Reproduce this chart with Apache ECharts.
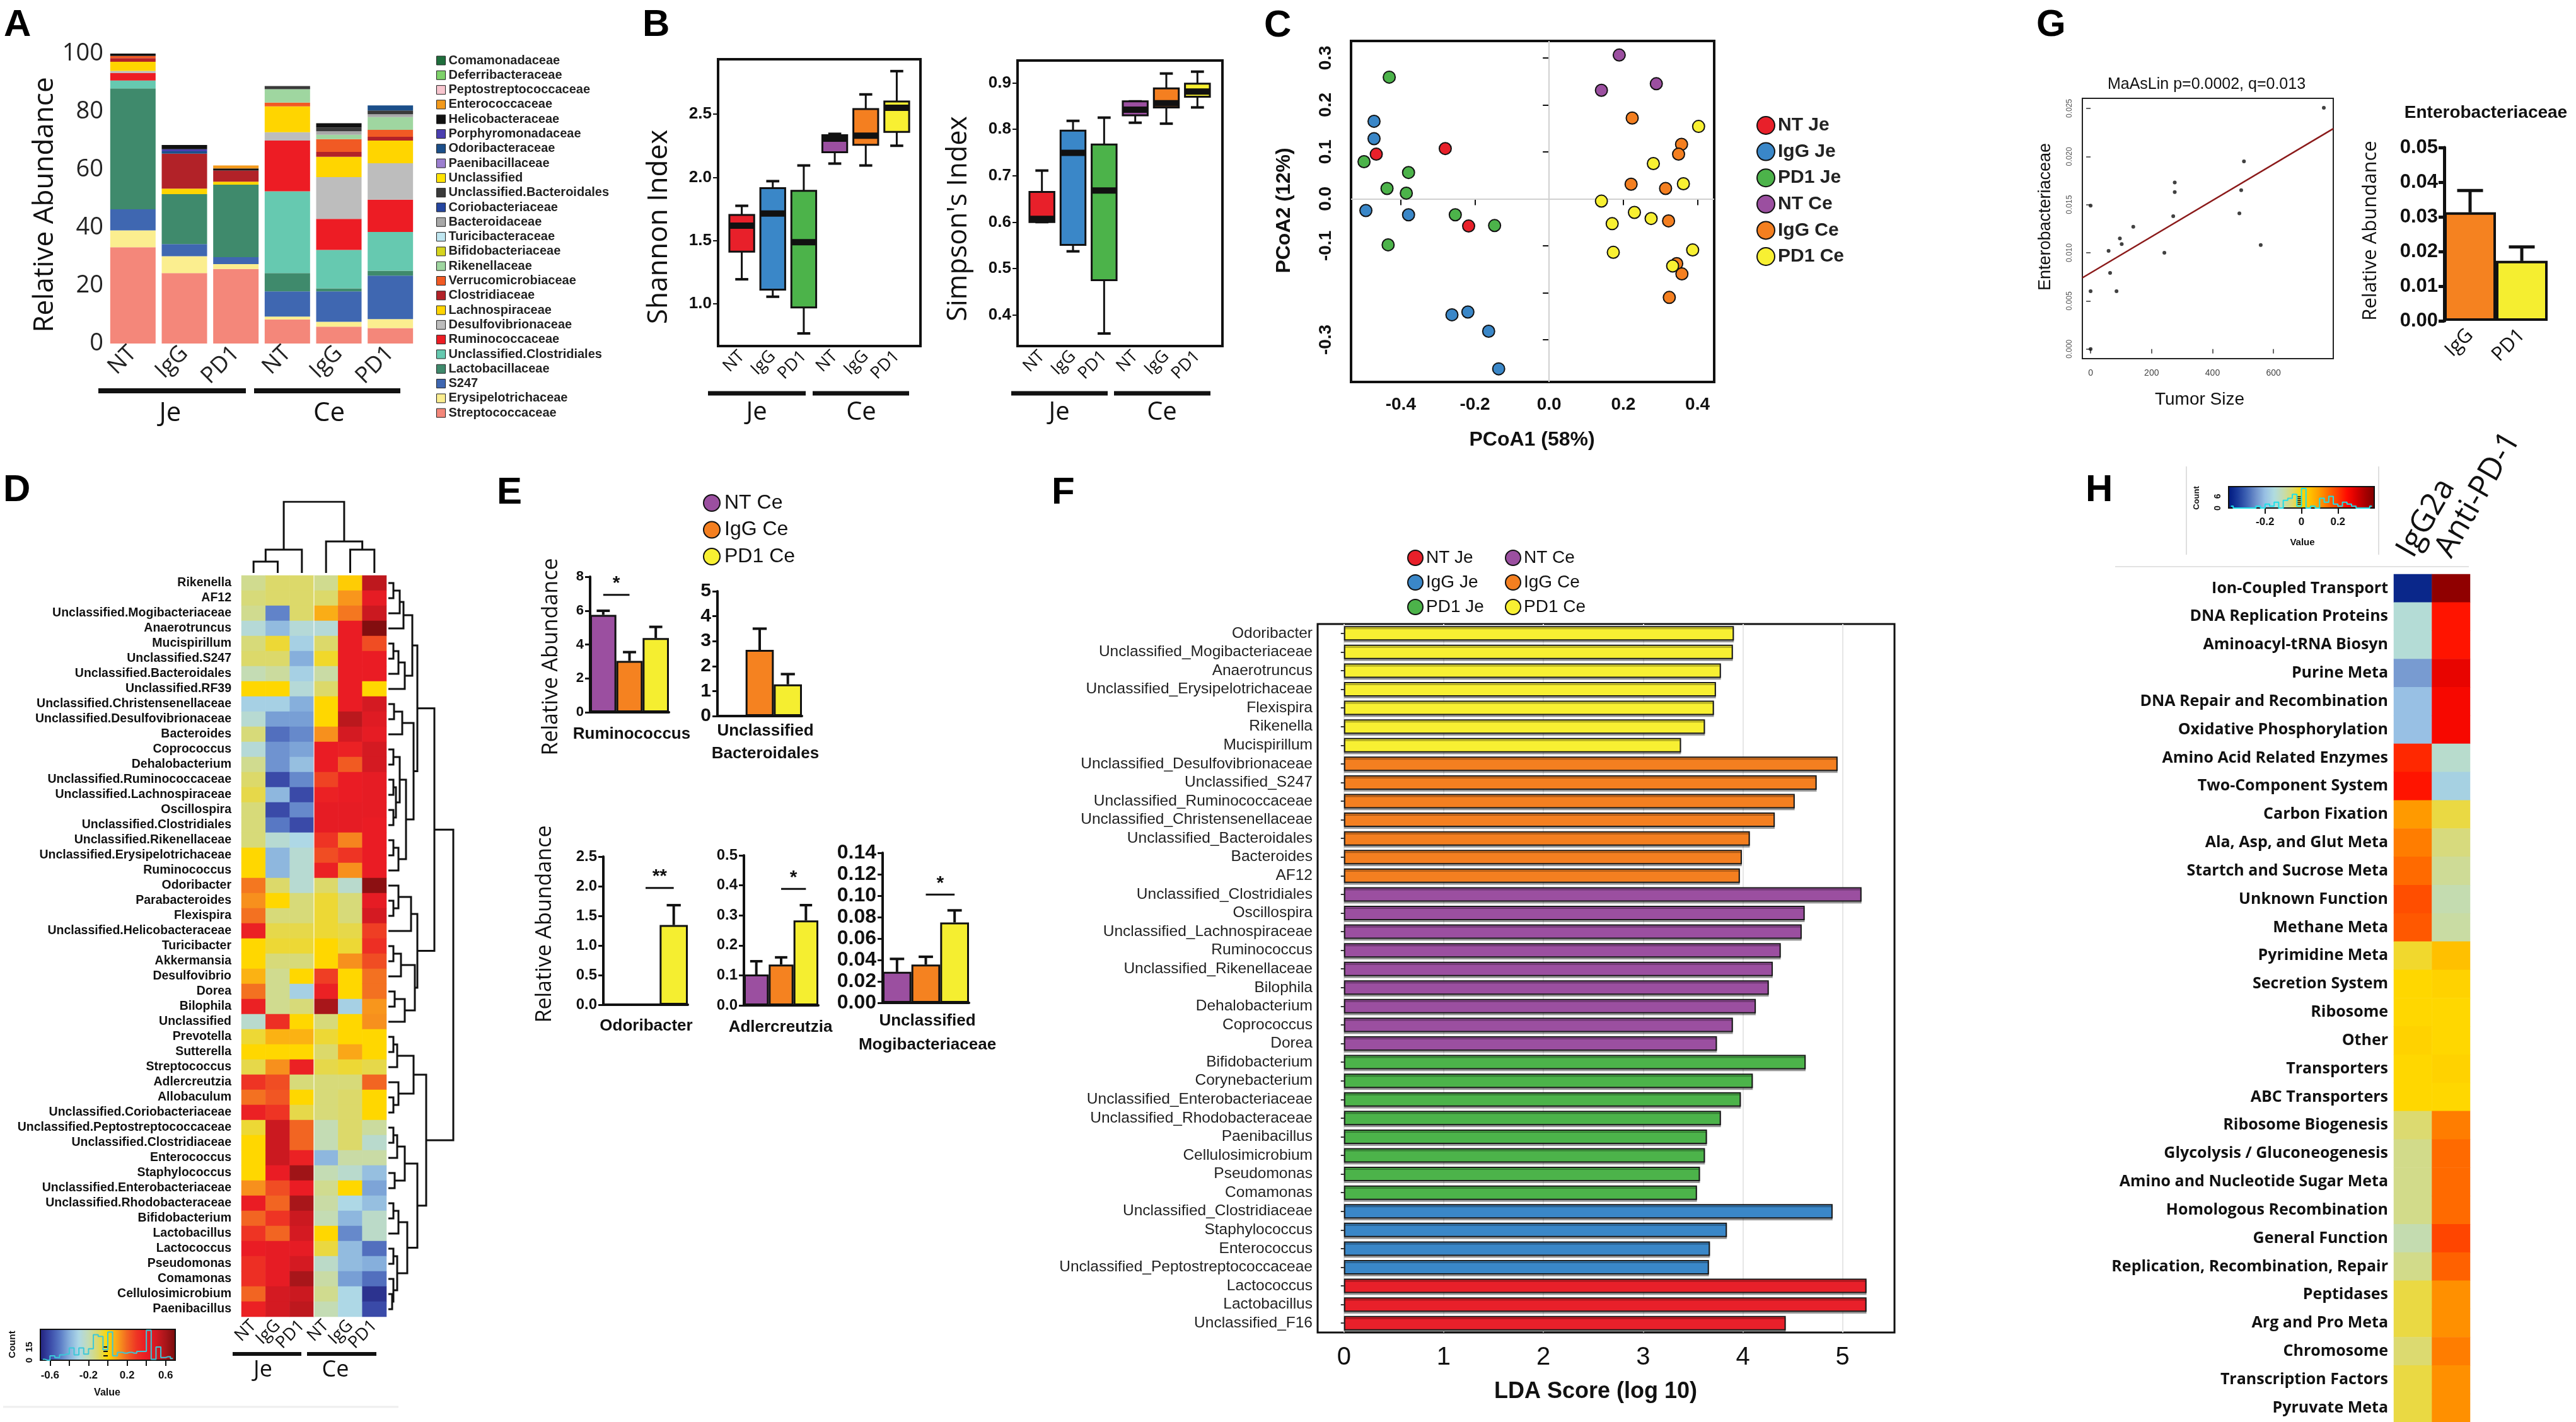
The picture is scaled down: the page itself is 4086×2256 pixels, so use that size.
<!DOCTYPE html>
<html>
<head>
<meta charset="utf-8">
<title>Microbiome multi-panel figure</title>
<script src="https://cdn.jsdelivr.net/npm/echarts@6/dist/echarts.min.js"></script>
<style>
html,body{margin:0;padding:0;background:#ffffff;}
#chart{width:4086px;height:2256px;}
</style>
</head>
<body>
<div id="chart"></div>
<script>
// ======================= DATA =======================
// ---- Panel A: relative abundance (families listed bottom -> top of stack)
const sampleCats = ['NT|Je','IgG|Je','PD1|Je','NT|Ce','IgG|Ce','PD1|Ce'];
const aFamilies = ['Streptococcaceae','Erysipelotrichaceae','S247','Lactobacillaceae','Unclassified.Clostridiales','Ruminococcaceae','Desulfovibrionaceae','Lachnospiraceae','Clostridiaceae','Verrucomicrobiaceae','Rikenellaceae','Bifidobacteriaceae','Turicibacteraceae','Bacteroidaceae','Coriobacteriaceae','Unclassified.Bacteroidales','Unclassified','Paenibacillaceae','Odoribacteraceae','Porphyromonadaceae','Helicobacteraceae','Enterococcaceae','Peptostreptococcaceae','Deferribacteraceae','Comamonadaceae'];
const aNTJe  = [33.2,5.8,7.3,41.7,2.7,2.6,0.7,3.2,1.2,0.8,0,0,0,0,0,0,0,0,0,0,0.8,0,0,0,0];
const aIgGJe = [24.3,5.8,4.2,17.2,0,0,0,1.9,12.1,0,0,0,0,0,0,0,0,0,0.8,0.7,1.5,0,0,0,0];
const aPD1Je = [25.7,1.7,2.4,25.0,0,0,0,1.0,3.9,0,0,0,0,0,0,0,0,0,0,0,0.7,1.0,0,0,0];
const aNTCe  = [8.3,1.0,8.7,6.3,28.2,17.5,2.9,8.9,0,1.3,4.6,0,0,0,0,1.1,0,0,0,0,0,0,0,0,0];
const aIgGCe = [5.8,1.7,10.5,1.0,13.3,10.7,14.4,7.0,1.7,4.4,1.5,0,0,1.2,0,1.3,0,0,0,0,1.5,0,0,0,0];
const aPD1Ce = [5.3,3.1,15.0,1.7,13.4,11.1,12.6,7.8,1.3,2.4,4.4,0,0,1.0,0,1.3,0,0,1.7,0,0,0,0,0,0];

// ---- Panel B: box statistics [min, Q1, median, Q3, max]
const bShannon = [[1.194,1.413,1.618,1.703,1.775],[1.056,1.112,1.714,1.915,1.970],[0.766,0.971,1.487,1.893,2.094],[2.109,2.199,2.306,2.333,2.344],[2.094,2.257,2.330,2.540,2.656],[2.250,2.360,2.550,2.600,2.840]];
const bSimpson = [[0.600,0.600,0.607,0.665,0.711],[0.537,0.551,0.749,0.797,0.818],[0.360,0.475,0.668,0.767,0.825],[0.814,0.830,0.842,0.860,0.860],[0.812,0.847,0.856,0.888,0.920],[0.847,0.870,0.881,0.898,0.924]];

// ---- Panel C: PCoA coordinates [PCoA1, PCoA2]
const groupNames = ['NT Je','IgG Je','PD1 Je','NT Ce','IgG Ce','PD1 Ce'];
const cNTJe  = [[-0.466,0.095],[-0.280,0.107],[-0.217,-0.058]];
const cIgGJe = [[-0.472,0.165],[-0.472,0.128],[-0.494,-0.025],[-0.379,-0.034],[-0.262,-0.247],[-0.219,-0.241],[-0.163,-0.282],[-0.136,-0.362]];
const cPD1Je = [[-0.431,0.259],[-0.499,0.079],[-0.379,0.056],[-0.437,0.022],[-0.385,0.012],[-0.253,-0.034],[-0.147,-0.057],[-0.434,-0.098]];
const cNTCe  = [[0.189,0.306],[0.141,0.231],[0.289,0.245]];
const cIgGCe = [[0.224,0.172],[0.357,0.116],[0.349,0.095],[0.221,0.031],[0.314,0.022],[0.322,-0.047],[0.344,-0.138],[0.358,-0.160],[0.324,-0.210]];
const cPD1Ce = [[0.403,0.154],[0.281,0.075],[0.362,0.032],[0.141,-0.005],[0.230,-0.029],[0.275,-0.042],[0.170,-0.053],[0.387,-0.109],[0.173,-0.114],[0.333,-0.143]];

// ---- Panel D: heatmap (rows top -> bottom), one array per column
const dRows = ['Rikenella','AF12','Unclassified.Mogibacteriaceae','Anaerotruncus','Mucispirillum','Unclassified.S247','Unclassified.Bacteroidales','Unclassified.RF39','Unclassified.Christensenellaceae','Unclassified.Desulfovibrionaceae','Bacteroides','Coprococcus','Dehalobacterium','Unclassified.Ruminococcaceae','Unclassified.Lachnospiraceae','Oscillospira','Unclassified.Clostridiales','Unclassified.Rikenellaceae','Unclassified.Erysipelotrichaceae','Ruminococcus','Odoribacter','Parabacteroides','Flexispira','Unclassified.Helicobacteraceae','Turicibacter','Akkermansia','Desulfovibrio','Dorea','Bilophila','Unclassified','Prevotella','Sutterella','Streptococcus','Adlercreutzia','Allobaculum','Unclassified.Coriobacteriaceae','Unclassified.Peptostreptococcaceae','Unclassified.Clostridiaceae','Enterococcus','Staphylococcus','Unclassified.Enterobacteriaceae','Unclassified.Rhodobacteraceae','Bifidobacterium','Lactobacillus','Lactococcus','Pseudomonas','Comamonas','Cellulosimicrobium','Paenibacillus'];
const dNTJe  = [-0.15,-0.12,-0.15,-0.27,-0.12,-0.10,-0.20,0.00,-0.32,-0.26,-0.12,-0.27,-0.15,-0.10,-0.07,-0.12,-0.12,-0.12,0.00,0.00,0.17,0.13,0.18,0.38,0.00,0.00,0.07,0.18,0.38,-0.25,-0.05,0.00,-0.07,0.30,0.18,0.38,-0.05,0.00,0.00,0.00,0.13,0.40,0.20,0.30,0.40,0.32,0.32,0.20,0.38];
const dIgGJe = [-0.10,-0.10,-0.48,-0.37,-0.05,-0.10,-0.17,0.00,-0.32,-0.43,-0.52,-0.45,-0.45,-0.60,-0.38,-0.60,-0.50,-0.26,-0.38,-0.38,-0.10,0.00,-0.12,-0.07,-0.05,-0.12,-0.15,-0.15,-0.15,0.32,0.07,0.00,0.13,0.25,0.23,0.30,0.52,0.52,0.52,0.40,0.25,0.20,0.30,0.20,0.42,0.42,0.42,0.50,0.50];
const dPD1Je = [-0.10,-0.10,-0.10,-0.27,-0.32,-0.40,-0.32,-0.27,-0.40,-0.43,-0.47,-0.42,-0.36,-0.47,-0.60,-0.47,-0.60,-0.30,-0.26,-0.26,-0.26,-0.12,-0.12,-0.07,-0.05,-0.12,0.00,-0.32,-0.12,0.00,0.07,0.00,0.38,-0.12,0.00,-0.07,0.20,0.20,0.38,0.62,0.40,0.60,0.52,0.50,0.42,0.50,0.60,0.52,0.55];
const dNTCe  = [-0.15,-0.10,0.08,-0.27,-0.10,-0.04,-0.18,-0.10,0.00,0.00,0.13,0.40,0.40,0.27,0.38,0.42,0.42,0.30,0.25,0.38,-0.10,-0.05,-0.05,-0.05,0.00,0.00,0.28,0.38,0.60,-0.12,-0.05,-0.10,-0.07,-0.12,-0.12,-0.12,-0.20,-0.20,-0.38,-0.20,-0.15,-0.18,-0.20,0.00,-0.06,-0.24,-0.18,-0.15,-0.20];
const dIgGCe = [0.02,0.12,0.17,0.40,0.40,0.40,0.40,0.40,0.40,0.56,0.50,0.38,0.22,0.40,0.40,0.42,0.42,0.15,0.30,0.13,-0.25,-0.12,-0.12,-0.07,-0.05,0.13,0.00,0.00,-0.32,0.00,0.00,0.09,-0.05,-0.12,-0.10,-0.10,-0.10,-0.10,-0.18,-0.25,0.00,-0.30,-0.38,-0.47,-0.37,-0.37,-0.43,-0.30,-0.30];
const dPD1Ce = [0.55,0.42,0.52,0.68,0.25,0.40,0.40,0.00,0.50,0.45,0.42,0.50,0.50,0.42,0.42,0.42,0.40,0.40,0.40,0.40,0.66,0.42,0.50,0.28,0.32,0.25,0.18,0.18,0.12,0.13,0.00,0.00,-0.07,0.20,0.00,0.00,-0.17,-0.25,-0.18,-0.36,-0.42,-0.36,-0.24,-0.24,-0.52,-0.40,-0.52,-0.66,-0.60];
// dendrograms: [mergeHeight, left, right]; leaves = row number (1-based) / column index (0-based)
const dRowTree = [103,
  [73,
    [46, [38, [24,[18,[8,1,2],3],4], [26,[16,[8,5,6],7],8]],
         [40, [22,[9,9,10],11], [28, [18,[8,12,13],[12,[8,14,15],[8,16,17]]], [16,[8,18,19],20]]]],
    [46, [36,[16,21,[8,22,23]],24], [42,[20,[8,25,26],27],[26,[10,28,29],30]]]],
  [60,
    [40, [14,[8,31,32],33], [16,34,[8,35,36]]],
    [46, [26,[14,[8,37,38],39],[10,40,41]], [30,[16,[8,42,43],44],[14,[8,45,46],[8,47,[6,48,49]]]]]]];
const dColTree = [113, [37,[18,0,1],2], [50,3,[37,4,5]]];

// ---- Panel E: mean and upper error-bar end
const eGroups = ['NT Ce','IgG Ce','PD1 Ce'];
const eRumMean = [5.75,3.03,4.38],      eRumErr = [5.99,3.55,5.04];
const eBacMean = [0.02,2.65,1.27],      eBacErr = [null,3.50,1.68];
const eOdoMean = [0,0,1.345],           eOdoErr = [null,null,1.68];
const eAdlMean = [0.103,0.136,0.283],   eAdlErr = [0.147,0.160,0.334];
const eMogMean = [0.0289,0.0357,0.075], eMogErr = [0.041,0.043,0.0863];
// significance brackets [fromGroup, toGroup, height]
const eRumSig = [0,1,6.93], eOdoSig = [1,2,1.97], eAdlSig = [1,2,0.388], eMogSig = [1,2,0.101];

// ---- Panel F: LDA scores
const fGenera = ['Odoribacter','Unclassified_Mogibacteriaceae','Anaerotruncus','Unclassified_Erysipelotrichaceae','Flexispira','Rikenella','Mucispirillum','Unclassified_Desulfovibrionaceae','Unclassified_S247','Unclassified_Ruminococcaceae','Unclassified_Christensenellaceae','Unclassified_Bacteroidales','Bacteroides','AF12','Unclassified_Clostridiales','Oscillospira','Unclassified_Lachnospiraceae','Ruminococcus','Unclassified_Rikenellaceae','Bilophila','Dehalobacterium','Coprococcus','Dorea','Bifidobacterium','Corynebacterium','Unclassified_Enterobacteriaceae','Unclassified_Rhodobacteraceae','Paenibacillus','Cellulosimicrobium','Pseudomonas','Comamonas','Unclassified_Clostridiaceae','Staphylococcus','Enterococcus','Unclassified_Peptostreptococcaceae','Lactococcus','Lactobacillus','Unclassified_F16'];
const fScores = [3.91,3.90,3.78,3.73,3.71,3.62,3.38, 4.95,4.74,4.52,4.32,4.07,3.99,3.97, 5.19,4.62,4.59,4.38,4.30,4.26,4.13,3.90,3.74, 4.63,4.10,3.98,3.78,3.64,3.62,3.57,3.54, 4.90,3.84,3.67,3.66, 5.24,5.24,4.43];
const fGroups = ['PD1 Ce','PD1 Ce','PD1 Ce','PD1 Ce','PD1 Ce','PD1 Ce','PD1 Ce','IgG Ce','IgG Ce','IgG Ce','IgG Ce','IgG Ce','IgG Ce','IgG Ce','NT Ce','NT Ce','NT Ce','NT Ce','NT Ce','NT Ce','NT Ce','NT Ce','NT Ce','PD1 Je','PD1 Je','PD1 Je','PD1 Je','PD1 Je','PD1 Je','PD1 Je','PD1 Je','IgG Je','IgG Je','IgG Je','IgG Je','NT Je','NT Je','NT Je'];

// ---- Panel G
const gTumor  = [765,503,276,276,494,0,271,488,140,96,102,59,242,558,64,0,85,0];
const gEntero = [0.02506,0.0195,0.0173,0.0163,0.0165,0.0149,0.0138,0.0141,0.0127,0.0115,0.0109,0.0102,0.0100,0.0108,0.0079,0.0060,0.0060,0.0000];
const gRegLine = [[-27,0.0074],[796,0.0229]];
const gBarCats = ['IgG','PD1'];
const gBarMean = [0.0313,0.0173];
const gBarErr  = [0.0376,0.0213];

// ---- Panel H: pathway heatmap
const hCols = ['IgG2a','Anti-PD-1'];
const hPathways = ['Ion-Coupled Transport','DNA Replication Proteins','Aminoacyl-tRNA Biosyn','Purine Meta','DNA Repair and Recombination','Oxidative Phosphorylation','Amino Acid Related Enzymes','Two-Component System','Carbon Fixation','Ala, Asp, and Glut Meta','Startch and Sucrose Meta','Unknown Function','Methane Meta','Pyrimidine Meta','Secretion System','Ribosome','Other','Transporters','ABC Transporters','Ribosome Biogenesis','Glycolysis / Gluconeogenesis','Amino and Nucleotide Sugar Meta','Homologous Recombination','General Function','Replication, Recombination, Repair','Peptidases','Arg and Pro Meta','Chromosome','Transcription Factors','Pyruvate Meta'];
const hIgG2a   = [-0.38,-0.14,-0.14,-0.24,-0.20,-0.20,0.22,0.24,0.10,0.13,0.15,0.18,0.17,-0.02,0.00,0.00,0.01,0.00,0.00,-0.05,-0.07,-0.07,-0.07,-0.10,-0.07,-0.03,-0.03,-0.05,-0.03,-0.03];
const hAntiPD1 = [0.38,0.24,0.24,0.28,0.26,0.26,-0.13,-0.17,-0.03,-0.06,-0.08,-0.10,-0.09,0.05,0.01,0.00,0.00,0.01,0.00,0.13,0.15,0.15,0.15,0.19,0.16,0.11,0.11,0.13,0.11,0.11];

// ======================= STYLES =======================
const F_ARIAL = "'Liberation Sans', Arial, Helvetica, sans-serif";
const F_OPEN = "'Open Sans', 'Liberation Sans', sans-serif";
const INK = '#111111';
const aColors = ['#f4877a','#fbee8f','#3f67b1','#3f8a6c','#66c9b0','#ed1c24','#bdbdbd','#ffd500','#b22228','#f15a24','#9fd6a0','#d6d41e','#bfe6f0','#a8a8a8','#2546a0','#3a3a3a','#ffe400','#9c7fd0','#1b4f8a','#4b3fb0','#111111','#f39a1c','#f8c6cf','#7ed26a','#1f6e3c'];
const groupColors = ['#e8202a','#3a87c8','#4cb34a','#9b4fa0','#f47f20','#f8f032'];
const eColors = ['#9b4fa0','#f58220','#f5ee30'];
const dScale = ['#23237f','#3a4aa8','#5878c4','#86afdc','#aed8e6','#c4dcb4','#dcd96a','#ffd700','#f9a21b','#f26522','#ee3424','#ea1c24','#d41a22','#a8161a','#7a0c0c'];
const hScale = ['#001a80','#1a3a9a','#4064b4','#7092cc','#98c0e4','#b0dce0','#c4dcb0','#dcda70','#ffd700','#ffc000','#ff9a00','#ff6a00','#ff3c00','#ff0a00','#d80000','#a80000','#800000'];

// ======================= BUILDERS =======================
const grids=[], xAxes=[], yAxes=[], series=[], graphics=[], legends=[], visualMaps=[];
function addGrid(g){ grids.push(Object.assign({containLabel:false, outerBoundsMode:'none'}, g)); return grids.length-1; }
function addX(a){ xAxes.push(a); return xAxes.length-1; }
function addY(a){ yAxes.push(a); return yAxes.length-1; }
function txt(x, y, text, size, o){
  o = o || {};
  const al = o.align || 'center';
  graphics.push({type:'text', x:x, y:y, rotation:o.rot||0, silent:true, z:100,
    style:{text:text, fill:o.color||INK, fontSize:size, fontFamily:o.family||F_ARIAL, fontWeight:o.weight||'normal',
      align:al, verticalAlign:'middle', textAlign:al, textVerticalAlign:'middle'}});
}
function seg(x1,y1,x2,y2,w,color){
  graphics.push({type:'line', silent:true, z:100, shape:{x1:x1,y1:y1,x2:x2,y2:y2}, style:{stroke:color||INK, lineWidth:w}});
}
const catFmt = v => String(v).split('|')[0];
function fmtIn(list, digits){ return v => list.some(t => Math.abs(t - v) < 1e-9) ? (digits == null ? String(+v.toFixed(4)) : v.toFixed(digits)) : ''; }
const ROT = Math.PI/2;

function makeBoxRender(colors){
  return function(params, api){
    const i = api.value(0);
    const p = [1,2,3,4,5].map(k => api.coord([i, api.value(k)]));
    const band = api.size([1,0])[0];
    const bw = band*0.8, sw = band*0.42, x = p[0][0];
    const st = {stroke:INK, lineWidth:3};
    return {type:'group', children:[
      {type:'line', shape:{x1:x,y1:p[0][1],x2:x,y2:p[1][1]}, style:st},
      {type:'line', shape:{x1:x,y1:p[3][1],x2:x,y2:p[4][1]}, style:st},
      {type:'line', shape:{x1:x-sw/2,y1:p[0][1],x2:x+sw/2,y2:p[0][1]}, style:{stroke:INK,lineWidth:4}},
      {type:'line', shape:{x1:x-sw/2,y1:p[4][1],x2:x+sw/2,y2:p[4][1]}, style:{stroke:INK,lineWidth:4}},
      {type:'rect', shape:{x:x-bw/2,y:p[3][1],width:bw,height:p[1][1]-p[3][1]}, style:{fill:colors[i],stroke:INK,lineWidth:3}},
      {type:'rect', shape:{x:x-bw/2,y:p[2][1]-5,width:bw,height:10}, style:{fill:INK}}
    ]};
  };
}
function makeErrRender(lw){
  return function(params, api){
    const i = api.value(0);
    const a = api.coord([i, api.value(1)]);
    const b = api.coord([i, api.value(2)]);
    const cw = api.size([1,0])[0]*0.5;
    return {type:'group', children:[
      {type:'line', shape:{x1:a[0],y1:a[1],x2:b[0],y2:b[1]}, style:{stroke:INK,lineWidth:lw}},
      {type:'line', shape:{x1:b[0]-cw/2,y1:b[1],x2:b[0]+cw/2,y2:b[1]}, style:{stroke:INK,lineWidth:lw}}
    ]};
  };
}
function makeSigRender(label, size){
  return function(params, api){
    const a = api.coord([api.value(0), api.value(2)]);
    const b = api.coord([api.value(1), api.value(2)]);
    return {type:'group', children:[
      {type:'line', shape:{x1:a[0],y1:a[1],x2:b[0],y2:b[1]}, style:{stroke:INK,lineWidth:3}},
      {type:'text', x:(a[0]+b[0])/2, y:a[1]-3, style:{text:label, fontSize:size, fontWeight:'bold', fill:INK, align:'center', verticalAlign:'bottom', textAlign:'center', textVerticalAlign:'bottom'}}
    ]};
  };
}
function dendro(tree, leafPos){
  const segs = [];
  (function walk(n){
    if (typeof n === 'number') return [leafPos(n), 0];
    const L = walk(n[1]), R = walk(n[2]);
    segs.push([[L[1],L[0]],[n[0],L[0]],[n[0],R[0]],[R[1],R[0]]]);
    return [(L[0]+R[0])/2, n[0]];
  })(tree);
  return segs;
}
function histo(vals, lo, hi, w){
  const n = Math.round((hi-lo)/w), c = new Array(n).fill(0);
  vals.forEach(v => { let k = Math.floor((v-lo)/w + 1e-9); if (k<0) k=0; if (k>=n) k=n-1; c[k]++; });
  return c.map((cnt,k) => [lo+(k+0.5)*w, cnt]);
}

// ======================= PANEL A =======================
(function(){
  const g = addGrid({left:170, top:85, width:490, height:460});
  const xi = addX({type:'category', gridIndex:g, data:sampleCats, axisLine:{show:false}, axisTick:{show:false},
    axisLabel:{rotate:45, interval:0, fontSize:36, fontFamily:F_OPEN, color:'#222', margin:10, formatter:catFmt}});
  const yi = addY({type:'value', gridIndex:g, min:0, max:100, interval:20, axisLine:{show:false}, axisTick:{show:false}, splitLine:{show:false},
    axisLabel:{fontSize:38, fontFamily:F_OPEN, color:'#222', margin:6}});
  const samples = [aNTJe, aIgGJe, aPD1Je, aNTCe, aIgGCe, aPD1Ce];
  aFamilies.forEach((f, fi) => series.push({type:'bar', name:f, stack:'A', xAxisIndex:xi, yAxisIndex:yi, barWidth:72,
    data:samples.map(s => s[fi]), itemStyle:{color:aColors[fi]}, emphasis:{disabled:true}}));
  legends.push({orient:'vertical', left:692, top:86, padding:0, itemWidth:14, itemHeight:14, itemGap:3.3, icon:'rect', selectedMode:false,
    data:aFamilies.slice().reverse(), itemStyle:{borderColor:'#222', borderWidth:1},
    textStyle:{fontSize:20, fontWeight:'bold', fontFamily:F_ARIAL, color:'#222', lineHeight:20}});
  txt(71, 325, 'Relative Abundance', 44, {family:F_OPEN, rot:ROT});
  seg(156,620,390,620,8); seg(403,620,635,620,8);
  txt(270, 656, 'Je', 42, {family:F_OPEN}); txt(522, 656, 'Ce', 42, {family:F_OPEN});
})();

// ======================= PANEL B =======================
function boxPanel(frame, dataLeft, dataWidth, ymin, ymax, ticks, stats){
  const gf = addGrid({left:frame.left, top:frame.top, width:frame.width, height:frame.height, show:true, borderColor:INK, borderWidth:4, backgroundColor:'transparent'});
  addX({type:'value', gridIndex:gf, show:false, min:0, max:1});
  addY({type:'value', gridIndex:gf, min:ymin, max:ymax, axisLine:{show:false}, splitLine:{show:false},
    axisTick:{show:true, customValues:ticks, length:8, lineStyle:{width:2, color:INK}},
    axisLabel:{customValues:ticks, fontSize:26, fontWeight:'bold', color:INK, margin:10, formatter:fmtIn(ticks,1)}});
  const gd = addGrid({left:dataLeft, top:frame.top, width:dataWidth, height:frame.height});
  const xi = addX({type:'category', gridIndex:gd, data:sampleCats, axisLine:{show:false}, axisTick:{show:false},
    axisLabel:{rotate:45, interval:0, fontSize:27, fontFamily:F_OPEN, color:INK, margin:12, formatter:catFmt}});
  const yi = addY({type:'value', gridIndex:gd, min:ymin, max:ymax, show:false});
  series.push({type:'custom', name:'box', xAxisIndex:xi, yAxisIndex:yi, renderItem:makeBoxRender(groupColors),
    encode:{x:0, y:[1,2,3,4,5]}, data:stats.map((d,i) => [i].concat(d)), z:3});
}
boxPanel({left:1139, top:94, width:321, height:455}, 1152, 295, 0.666, 2.934, [1.0,1.5,2.0,2.5], bShannon);
boxPanel({left:1614, top:96, width:325, height:453}, 1628, 296, 0.333, 0.948, [0.4,0.5,0.6,0.7,0.8,0.9], bSimpson);
txt(1045, 360, 'Shannon Index', 44, {family:F_OPEN, rot:ROT});
txt(1521, 347, "Simpson's Index", 43, {family:F_OPEN, rot:ROT});
seg(1123,624,1278,624,7); seg(1289,624,1442,624,7);
seg(1604,624,1757,624,7); seg(1767,624,1920,624,7);
txt(1200,655,'Je',40,{family:F_OPEN}); txt(1366,655,'Ce',40,{family:F_OPEN});
txt(1680,655,'Je',40,{family:F_OPEN}); txt(1843,655,'Ce',40,{family:F_OPEN});

// ======================= PANEL C =======================
(function(){
  const g = addGrid({left:2143, top:65, width:576, height:541, show:true, borderColor:INK, borderWidth:4});
  const xt = [-0.4,-0.2,0,0.2,0.4];
  const yt = [-0.3,-0.2,-0.1,0,0.1,0.2,0.3];
  const yl = [-0.3,-0.1,0,0.1,0.2,0.3];
  const xi = addX({type:'value', gridIndex:g, min:-0.534, max:0.445, splitLine:{show:false}, axisLine:{show:false},
    axisTick:{customValues:xt, length:10, lineStyle:{width:2, color:INK}},
    axisLabel:{customValues:xt, formatter:fmtIn(xt,1), fontSize:28, fontWeight:'bold', color:INK, margin:22}});
  const yi = addY({type:'value', gridIndex:g, min:-0.39, max:0.336, splitLine:{show:false}, axisLine:{show:false},
    axisTick:{customValues:yt, length:10, lineStyle:{width:2, color:INK}},
    axisLabel:{customValues:yl, formatter:fmtIn(yl,1), rotate:90, fontSize:28, fontWeight:'bold', color:INK, margin:26}});
  const sets = [cNTJe, cIgGJe, cPD1Je, cNTCe, cIgGCe, cPD1Ce];
  sets.forEach((d, k) => {
    const s = {type:'scatter', name:groupNames[k], xAxisIndex:xi, yAxisIndex:yi, data:d, symbolSize:19,
      itemStyle:{color:groupColors[k], borderColor:INK, borderWidth:2, opacity:1}, emphasis:{disabled:true}, z:3};
    if (k === 0) s.markLine = {silent:true, symbol:'none', label:{show:false}, lineStyle:{color:'#d0d0d0', width:2, type:'solid'},
      data:[{xAxis:0},{yAxis:0}], z:1};
    series.push(s);
  });
  legends.push({orient:'vertical', left:2786, top:184, padding:0, itemWidth:28, itemHeight:28, itemGap:11.6, icon:'circle', selectedMode:false,
    data:groupNames, textStyle:{fontSize:30, fontWeight:'bold', color:'#222', lineHeight:30}});
  txt(2430, 698, 'PCoA1 (58%)', 32, {weight:'bold'});
  txt(2037, 334, 'PCoA2 (12%)', 32, {weight:'bold', rot:ROT});
})();

// ======================= PANEL D =======================
(function(){
  const g = addGrid({left:383, top:913, width:230, height:1176});
  const xi = addX({type:'category', gridIndex:g, data:sampleCats, axisLine:{show:false}, axisTick:{show:false},
    axisLabel:{rotate:45, interval:0, fontSize:27, fontFamily:F_OPEN, color:INK, margin:10, formatter:catFmt}});
  const yi = addY({type:'category', gridIndex:g, data:dRows, inverse:true, axisLine:{show:false}, axisTick:{show:false},
    axisLabel:{interval:0, fontSize:19.5, fontWeight:'bold', color:INK, margin:16}});
  const cols = [dNTJe, dIgGJe, dPD1Je, dNTCe, dIgGCe, dPD1Ce];
  const heat = [], all = [];
  cols.forEach((col, ci) => col.forEach((v, ri) => { heat.push([ci, ri, v]); all.push(v); }));
  const sIdx = series.length;
  series.push({type:'heatmap', xAxisIndex:xi, yAxisIndex:yi, data:heat, itemStyle:{borderWidth:0}, emphasis:{disabled:true}});
  visualMaps.push({type:'continuous', seriesIndex:sIdx, min:-0.7, max:0.7, orient:'horizontal', left:64, top:2109, padding:0,
    itemWidth:49, itemHeight:214, calculable:false, hoverLink:false, show:true, inRange:{color:dScale}});
  // colour key histogram
  const gk = addGrid({left:64, top:2109, width:214, height:49, show:true, borderColor:INK, borderWidth:2, z:10});
  const hist = histo(all, -0.7, 0.7, 0.05);
  const hmax = Math.max(17, Math.max.apply(null, hist.map(h => h[1])) + 1);
  const kx = addX({type:'value', gridIndex:gk, min:-0.7, max:0.7, z:10, splitLine:{show:false}, axisLine:{show:false},
    axisTick:{customValues:[-0.6,-0.4,-0.2,0,0.2,0.4,0.6], length:9, lineStyle:{width:2, color:INK}},
    axisLabel:{customValues:[-0.6,-0.2,0.2,0.6], formatter:fmtIn([-0.6,-0.2,0.2,0.6],1), fontSize:17, fontWeight:'bold', color:INK, margin:16}});
  const ky = addY({type:'value', gridIndex:gk, min:0, max:hmax, z:10, splitLine:{show:false}, axisLine:{show:false},
    axisTick:{customValues:[0,5,10,15], length:7, lineStyle:{width:2, color:INK}},
    axisLabel:{customValues:[0,15], formatter:fmtIn([0,15]), rotate:90, fontSize:15, fontWeight:'bold', color:INK, margin:10}});
  series.push({type:'line', xAxisIndex:kx, yAxisIndex:ky, data:hist, step:'middle', symbol:'none', z:12, silent:true,
    lineStyle:{color:'#3cc8d8', width:2}});
  // dendrograms
  const gr = addGrid({left:616, top:913, width:103, height:1176});
  const rx = addX({type:'value', gridIndex:gr, min:0, max:103, show:false});
  const ry = addY({type:'value', gridIndex:gr, min:0, max:49, inverse:true, show:false});
  series.push({type:'lines', coordinateSystem:'cartesian2d', xAxisIndex:rx, yAxisIndex:ry, polyline:true, silent:true,
    data:dendro(dRowTree, r => r - 0.5).map(c => ({coords:c})), lineStyle:{color:INK, width:3, opacity:1}});
  const gc = addGrid({left:383, top:796, width:230, height:113});
  const cx = addX({type:'value', gridIndex:gc, min:0, max:6, show:false});
  const cy = addY({type:'value', gridIndex:gc, min:0, max:113, show:false});
  series.push({type:'lines', coordinateSystem:'cartesian2d', xAxisIndex:cx, yAxisIndex:cy, polyline:true, silent:true,
    data:dendro(dColTree, i => i + 0.5).map(c => ({coords:c.map(p => [p[1], p[0]])})), lineStyle:{color:INK, width:3, opacity:1}});
  seg(498, 913, 498, 2089, 2, 'rgba(255,255,255,0.55)');
  seg(369,2148,478,2148,6); seg(487,2148,597,2148,6);
  txt(417,2174,'Je',36,{family:F_OPEN}); txt(532,2174,'Ce',36,{family:F_OPEN});
  txt(170,2210,'Value',16,{weight:'bold'});
  txt(20,2133,'Count',15,{weight:'bold', rot:ROT});
  seg(5,2232,632,2232,3,'#eeeeee');
})();

// ======================= PANEL E =======================
function ePanel(g, ymax, interval, labelSize, digits, means, errs, sig, sigLabel){
  const gi = addGrid(g);
  const xi = addX({type:'category', gridIndex:gi, data:eGroups, axisLine:{show:true, lineStyle:{color:INK, width:4}}, axisTick:{show:false}, axisLabel:{show:false}});
  const yi = addY({type:'value', gridIndex:gi, min:0, max:ymax, interval:interval, splitLine:{show:false},
    axisLine:{show:true, lineStyle:{color:INK, width:4}}, axisTick:{show:true, length:8, lineStyle:{width:3, color:INK}},
    axisLabel:{fontSize:labelSize, fontWeight:'bold', color:INK, margin:10, formatter:v => (+v).toFixed(digits)}});
  eGroups.forEach((c, ci) => series.push({type:'bar', name:c, stack:'e'+gi, xAxisIndex:xi, yAxisIndex:yi, barWidth:'100%',
    data:means.map((m,k) => k === ci ? m : '-'), itemStyle:{color:eColors[ci], borderColor:INK, borderWidth:3}, emphasis:{disabled:true}}));
  const ed = [];
  errs.forEach((e,k) => { if (e != null) ed.push([k, means[k], e]); });
  series.push({type:'custom', xAxisIndex:xi, yAxisIndex:yi, renderItem:makeErrRender(4), encode:{x:0, y:[1,2]}, data:ed, z:5});
  if (sig) series.push({type:'custom', xAxisIndex:xi, yAxisIndex:yi, renderItem:makeSigRender(sigLabel, 30), encode:{x:[0,1], y:2}, data:[sig], z:5});
}
ePanel({left:936, top:915, width:125, height:215}, 8, 2, 22, 0, eRumMean, eRumErr, eRumSig, '*');
ePanel({left:1138, top:938, width:134, height:198}, 5, 1, 30, 0, eBacMean, eBacErr, null, '');
ePanel({left:957, top:1359, width:134, height:235}, 2.5, 0.5, 24, 1, eOdoMean, eOdoErr, eOdoSig, '**');
ePanel({left:1180, top:1357, width:118, height:238}, 0.5, 0.1, 24, 1, eAdlMean, eAdlErr, eAdlSig, '*');
ePanel({left:1400, top:1353, width:137, height:238}, 0.14, 0.02, 32, 2, eMogMean, eMogErr, eMogSig, '*');
legends.push({orient:'vertical', left:1115, top:782, padding:0, itemWidth:30, itemHeight:26, itemGap:10.5, icon:'circle', selectedMode:false,
  data:eGroups, textStyle:{fontSize:32, color:INK, lineHeight:32}});
txt(874,1042,'Relative Abundance',34,{family:F_OPEN, rot:ROT});
txt(864,1466,'Relative Abundance',34,{family:F_OPEN, rot:ROT});
txt(1002,1165,'Ruminococcus',26,{weight:'bold'});
txt(1214,1160,'Unclassified',26,{weight:'bold'}); txt(1214,1196,'Bacteroidales',26,{weight:'bold'});
txt(1025,1628,'Odoribacter',26,{weight:'bold'});
txt(1238,1630,'Adlercreutzia',26,{weight:'bold'});
txt(1471,1620,'Unclassified',26,{weight:'bold'}); txt(1471,1658,'Mogibacteriaceae',26,{weight:'bold'});

// ======================= PANEL F =======================
(function(){
  const g = addGrid({left:2090, top:990, width:915, height:1124, show:true, borderColor:INK, borderWidth:3});
  const xt = [0,1,2,3,4,5];
  const xi = addX({type:'value', gridIndex:g, min:-0.264, max:5.52, axisLine:{show:false},
    splitLine:{show:true, lineStyle:{color:'#e6e6e6', width:2}},
    axisTick:{customValues:xt, length:10, lineStyle:{width:2, color:'#333'}},
    axisLabel:{customValues:xt, formatter:fmtIn(xt,0), fontSize:40, color:INK, margin:20}});
  const yi = addY({type:'category', gridIndex:g, data:fGenera, inverse:true, axisLine:{show:false},
    axisTick:{show:true, length:5, alignWithLabel:true, lineStyle:{color:'#333', width:2}},
    axisLabel:{interval:0, fontSize:24.5, color:'#222', margin:8}});
  groupNames.forEach((gn, k) => series.push({type:'bar', name:gn, stack:'F', xAxisIndex:xi, yAxisIndex:yi, barWidth:23,
    data:fScores.map((s,i) => fGroups[i] === gn ? s : '-'),
    itemStyle:{color:groupColors[k], borderColor:'#1a1a1a', borderWidth:2, shadowColor:'rgba(0,0,0,0.3)', shadowOffsetY:3}, emphasis:{disabled:true}}));
  legends.push({orient:'vertical', left:2232, top:870, padding:0, itemWidth:24, itemHeight:30, itemGap:9, icon:'circle', selectedMode:false,
    data:['NT Je','IgG Je','PD1 Je'], textStyle:{fontSize:28, color:INK, lineHeight:30}});
  legends.push({orient:'vertical', left:2387, top:870, padding:0, itemWidth:24, itemHeight:30, itemGap:9, icon:'circle', selectedMode:false,
    data:['NT Ce','IgG Ce','PD1 Ce'], textStyle:{fontSize:28, color:INK, lineHeight:30}});
  txt(2531, 2208, 'LDA Score (log 10)', 36, {weight:'bold'});
})();

// ======================= PANEL G =======================
(function(){
  const g = addGrid({left:3303, top:156, width:398, height:413, show:true, borderColor:'#222', borderWidth:2});
  const xt = [0,200,400,600];
  const yt = [0,0.005,0.01,0.015,0.02,0.025];
  const xi = addX({type:'value', gridIndex:g, min:-27, max:796, splitLine:{show:false}, axisLine:{show:false},
    axisTick:{customValues:xt, length:7, lineStyle:{width:1.5, color:'#333'}},
    axisLabel:{customValues:xt, formatter:fmtIn(xt,0), fontSize:14, color:'#444', margin:16}});
  const yi = addY({type:'value', gridIndex:g, min:-0.001, max:0.02605, splitLine:{show:false}, axisLine:{show:false},
    axisTick:{customValues:yt, length:7, lineStyle:{width:1.5, color:'#333'}},
    axisLabel:{customValues:yt, formatter:fmtIn(yt,3), rotate:90, fontSize:12, color:'#555', margin:14}});
  series.push({type:'line', xAxisIndex:xi, yAxisIndex:yi, data:gRegLine, symbol:'none', silent:true, lineStyle:{color:'#8b1a1a', width:2.5}, z:2});
  series.push({type:'scatter', xAxisIndex:xi, yAxisIndex:yi, data:gTumor.map((t,i) => [t, gEntero[i]]), symbolSize:6,
    itemStyle:{color:'#111'}, emphasis:{disabled:true}, z:3});
  txt(3500, 134, 'MaAsLin p=0.0002, q=0.013', 25);
  txt(3489, 634, 'Tumor Size', 28);
  txt(3245, 344, 'Enterobacteriaceae', 27, {rot:ROT});

  const g2 = addGrid({left:3877, top:234, width:164, height:275});
  const x2 = addX({type:'category', gridIndex:g2, data:gBarCats, axisLine:{show:false}, axisTick:{show:false},
    axisLabel:{rotate:45, interval:0, fontSize:31, fontFamily:F_OPEN, color:INK, margin:18}});
  const y2 = addY({type:'value', gridIndex:g2, min:0, max:0.05, interval:0.01, splitLine:{show:false},
    axisLine:{show:true, lineStyle:{color:INK, width:5}}, axisTick:{show:true, length:9, lineStyle:{width:5, color:INK}},
    axisLabel:{fontSize:31, fontWeight:'bold', color:INK, margin:10, formatter:v => (+v).toFixed(2)}});
  series.push({type:'bar', xAxisIndex:x2, yAxisIndex:y2, barWidth:'100%',
    data:gBarMean.map((v,i) => ({value:v, itemStyle:{color:eColors[i+1]}})),
    itemStyle:{borderColor:INK, borderWidth:4}, emphasis:{disabled:true}});
  series.push({type:'custom', xAxisIndex:x2, yAxisIndex:y2, renderItem:makeErrRender(5), encode:{x:0, y:[1,2]},
    data:gBarErr.map((e,i) => [i, gBarMean[i], e]), z:5});
  txt(3943, 179, 'Enterobacteriaceae', 28, {weight:'bold'});
  txt(3760, 366, 'Relative Abundance', 31, {family:F_OPEN, rot:ROT});
})();

// ======================= PANEL H =======================
(function(){
  const g = addGrid({left:3797, top:911, width:121, height:1345});
  const xi = addX({type:'category', gridIndex:g, data:hCols, position:'top', axisLine:{show:false}, axisTick:{show:false},
    axisLabel:{show:false}});
  const yi = addY({type:'category', gridIndex:g, data:hPathways, inverse:true, axisLine:{show:false}, axisTick:{show:false},
    axisLabel:{interval:0, fontSize:25, fontWeight:'bold', fontFamily:F_OPEN, color:INK, margin:9}});
  const heat = [], all = [];
  [hIgG2a, hAntiPD1].forEach((col, ci) => col.forEach((v, ri) => { heat.push([ci, ri, v]); all.push(v); }));
  const sIdx = series.length;
  series.push({type:'heatmap', xAxisIndex:xi, yAxisIndex:yi, data:heat, itemStyle:{borderWidth:0}, emphasis:{disabled:true}});
  // slanted column headers, anchored at each column's top
  const colW = 121 / hCols.length;
  hCols.forEach((c, i) => txt(3797 + colW*(i+0.5) - 12, 880, c, 50, {family:F_OPEN, align:'left', rot:60*Math.PI/180}));
  visualMaps.push({type:'continuous', seriesIndex:sIdx, min:-0.4, max:0.4, orient:'horizontal', left:3535, top:772, padding:0,
    itemWidth:34, itemHeight:231, calculable:false, hoverLink:false, show:true, inRange:{color:hScale}});
  const gk = addGrid({left:3535, top:772, width:231, height:34, show:true, borderColor:INK, borderWidth:2, z:10});
  const hist = histo(all, -0.4, 0.4, 0.025);
  const hmax = Math.max(7, Math.max.apply(null, hist.map(h => h[1])) + 1);
  const kx = addX({type:'value', gridIndex:gk, min:-0.4, max:0.4, z:10, splitLine:{show:false}, axisLine:{show:false},
    axisTick:{customValues:[-0.2,0,0.2], length:9, lineStyle:{width:2, color:INK}},
    axisLabel:{customValues:[-0.2,0,0.2], formatter:v => Math.abs(v) < 1e-9 ? '0' : (Math.abs(Math.abs(v)-0.2) < 1e-9 ? v.toFixed(1) : ''), fontSize:17, fontWeight:'bold', color:INK, margin:14}});
  const ky = addY({type:'value', gridIndex:gk, min:0, max:hmax, z:10, splitLine:{show:false}, axisLine:{show:false},
    axisTick:{customValues:[0,1,2,3,4,5,6], length:7, lineStyle:{width:1.5, color:INK}},
    axisLabel:{customValues:[0,6], formatter:fmtIn([0,6]), rotate:90, fontSize:14, fontWeight:'bold', color:INK, margin:10}});
  series.push({type:'line', xAxisIndex:kx, yAxisIndex:ky, data:hist, step:'middle', symbol:'none', z:12, silent:true,
    lineStyle:{color:'#20e0e8', width:2}});
  txt(3652, 861, 'Value', 15, {weight:'bold'});
  txt(3484, 790, 'Count', 13, {weight:'bold', rot:ROT});
  seg(3468,740,3468,880,1.5,'#d4d4d4'); seg(3773,740,3773,880,1.5,'#d4d4d4');
  seg(3355,899,3916,899,2,'#e2e2e2');
})();

// ======================= PANEL LETTERS =======================
[['A',6,40],['B',1019,40],['C',2005,41],['G',3230,40],['D',5,778],['E',788,782],['F',1668,782],['H',3308,778]]
  .forEach(p => txt(p[1], p[2], p[0], 60, {weight:'bold', align:'left', color:'#000'}));

// ======================= RENDER =======================
const chart = echarts.init(document.getElementById('chart'), null, {renderer:'canvas', width:4086, height:2256});
chart.setOption({
  animation:false,
  backgroundColor:'#ffffff',
  textStyle:{fontFamily:F_ARIAL},
  grid:grids, xAxis:xAxes, yAxis:yAxes, series:series,
  legend:legends, visualMap:visualMaps,
  graphic:{elements:graphics}
});
</script>
</body>
</html>
